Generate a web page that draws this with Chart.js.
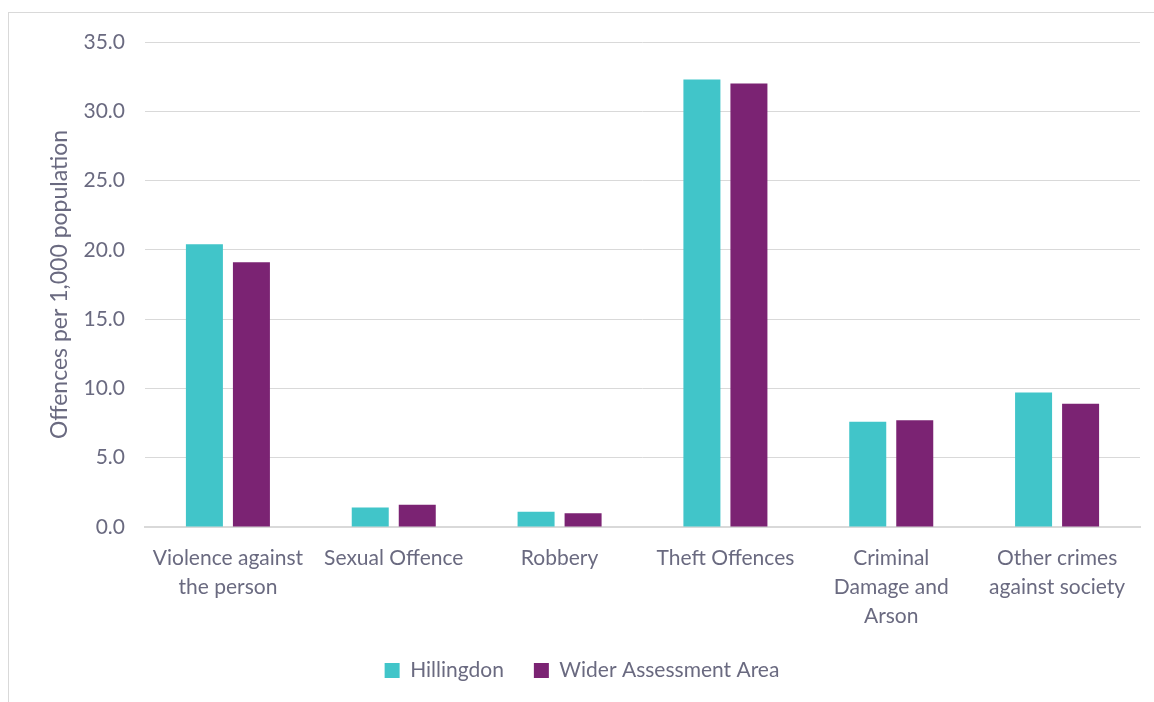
<!DOCTYPE html>
<html>
<head>
<meta charset="utf-8">
<script src="https://cdn.jsdelivr.net/npm/chart.js@4.4.1/dist/chart.umd.min.js"></script>
<style>
  html, body { margin: 0; padding: 0; background: #ffffff; overflow: hidden; }
  #frame { position: absolute; left: 8px; top: 12px; width: 1170px; height: 720px; border: 1px solid #d9d9d9; box-sizing: border-box; }
  #wrap { position: absolute; left: 0; top: 0; width: 1154px; height: 702px; }
</style>
</head>
<body>
<div id="frame"></div>
<div id="wrap"><canvas id="chart" width="1154" height="702"></canvas></div>
<script>
// Recorded offences per 1,000 population by crime category
const categories = [
  ["Violence against", "the person"],
  "Sexual Offence",
  "Robbery",
  "Theft Offences",
  ["Criminal", "Damage and", "Arson"],
  ["Other crimes", "against society"]
];
const hillingdon = [20.4, 1.4, 1.1, 32.3, 7.6, 9.7];
const widerArea = [19.1, 1.6, 1.0, 32.0, 7.7, 8.9];
const seriesNames = ["Hillingdon", "Wider Assessment Area"];
const yTitle = "Offences per 1,000 population";

const textColor = "#6a6a80";
const fontFamily = "Lato, 'Open Sans', sans-serif";

new Chart(document.getElementById("chart"), {
  type: "bar",
  data: {
    labels: categories,
    datasets: [
      { label: seriesNames[0], data: hillingdon, backgroundColor: "#41c5c9" },
      { label: seriesNames[1], data: widerArea, backgroundColor: "#7b2373" }
    ]
  },
  options: {
    responsive: false,
    animation: false,
    devicePixelRatio: 1,
    layout: { padding: { left: 24, right: 14, top: 42, bottom: 11 } },
    datasets: { bar: { categoryPercentage: 0.567, barPercentage: 0.787 } },
    plugins: {
      legend: {
        position: "bottom",
        labels: {
          color: textColor,
          font: { family: fontFamily, size: 21 },
          boxWidth: 15,
          boxHeight: 15,
          padding: 30
        }
      },
      tooltip: { enabled: false }
    },
    scales: {
      x: {
        grid: { display: false, drawTicks: false },
        border: { color: "#d9d9d9", width: 2 },
        ticks: {
          color: textColor,
          font: { family: fontFamily, size: 21, lineHeight: 1.38 },
          maxRotation: 0,
          autoSkip: false,
          padding: 17
        },
        afterFit: (scale) => { scale.height = 103; }
      },
      y: {
        min: 0,
        max: 35,
        grid: { color: "#d9d9d9", lineWidth: 1, drawTicks: false },
        border: { display: false },
        ticks: {
          stepSize: 5,
          color: textColor,
          font: { family: fontFamily, size: 21 },
          padding: 20,
          callback: (v) => Number(v).toFixed(1)
        },
        title: {
          display: true,
          text: yTitle,
          color: textColor,
          font: { family: fontFamily, size: 23 },
          padding: { top: 22, bottom: 0 }
        },
        afterFit: (scale) => { scale.width = 121; }
      }
    }
  }
});
</script>
</body>
</html>
